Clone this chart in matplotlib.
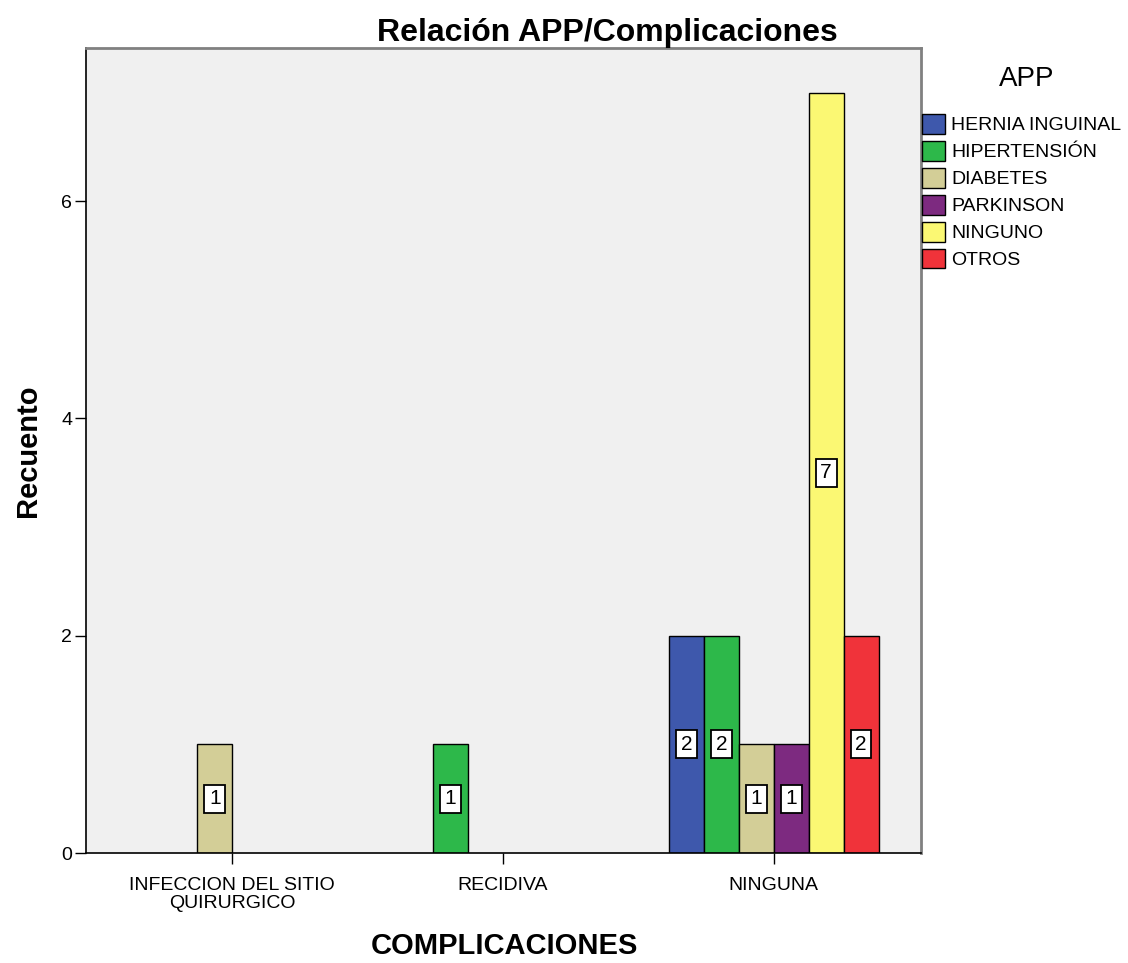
import matplotlib
matplotlib.use("Agg")
import matplotlib.pyplot as plt
from matplotlib.patches import Patch
import numpy as np

plt.rcParams["font.family"] = ["Liberation Sans", "DejaVu Sans"]

# data
complicaciones = ["INFECCION DEL SITIO\nQUIRURGICO", "RECIDIVA", "NINGUNA"]
app = ["HERNIA INGUINAL", "HIPERTENSIÓN", "DIABETES", "PARKINSON", "NINGUNO", "OTROS"]
colores = ["#3E58AC", "#2DB84A", "#D3CE97", "#7D2A80", "#FBF873", "#F0333A"]
hernia = [0, 0, 2]
hipertension = [0, 1, 2]
diabetes = [1, 0, 1]
parkinson = [0, 0, 1]
ninguno = [0, 0, 7]
otros = [0, 0, 2]
series = [hernia, hipertension, diabetes, parkinson, ninguno, otros]

W, H = 1128, 963
fig = plt.figure(figsize=(W / 100, H / 100), dpi=100)
ax = fig.add_axes([0.0762, 0.1142, 0.7403, 0.836])
ax.set_facecolor("#F0F0F0")

x = np.arange(len(complicaciones))
w = 0.129
n = len(series)
for i, (vals, col) in enumerate(zip(series, colores)):
    pos = x + (i - (n - 1) / 2) * w
    # only bars where count > 0
    for p, v in zip(pos, vals):
        if v <= 0:
            continue
        ax.bar(p, v, width=w, color=col, edgecolor="black", linewidth=1)
        ax.text(p, v / 2, str(v), ha="center", va="center", fontsize=15,
                bbox=dict(boxstyle="square,pad=0.22", fc="white", ec="black", lw=1.3))

ax.set_xlim(-0.54, 2.544)
ax.set_ylim(0, 7.41)
ax.set_yticks([0, 2, 4, 6])
ax.set_xticks(x)
ax.set_xticklabels(complicaciones, fontsize=14, linespacing=1.1)
ax.tick_params(axis="both", direction="out", length=8, width=1, labelsize=14)
ax.tick_params(axis="y", pad=2)
ax.tick_params(axis="x", pad=9)

for s in ["top", "right"]:
    ax.spines[s].set_color("#808080")
    ax.spines[s].set_linewidth(2)
ax.spines["left"].set_linewidth(1.2)
ax.spines["bottom"].set_linewidth(1.2)

fig.text(607 / W, 1 - 33 / H, "Relación APP/Complicaciones", fontsize=23,
         fontweight="bold", ha="center", va="center")
fig.text(504 / W, 1 - 946 / H, "COMPLICACIONES", fontsize=21,
         fontweight="bold", ha="center", va="center")
ax.set_ylabel("Recuento", fontsize=21, fontweight="bold", labelpad=14)

# legend outside the plot, title drawn separately
fig.text(1027 / W, 1 - 79 / H, "APP", fontsize=20, ha="center", va="center")
handles = [Patch(facecolor=c, edgecolor="black", linewidth=1) for c in colores]
leg = fig.legend(handles, app, loc="upper left", bbox_to_anchor=(0.812, 1 - 108 / H),
                 frameon=False, fontsize=14,
                 handlelength=1.2, handleheight=1.2, handletextpad=0.3,
                 labelspacing=0.33, borderaxespad=0, borderpad=0.3)

fig.savefig("out.png", dpi=100)
